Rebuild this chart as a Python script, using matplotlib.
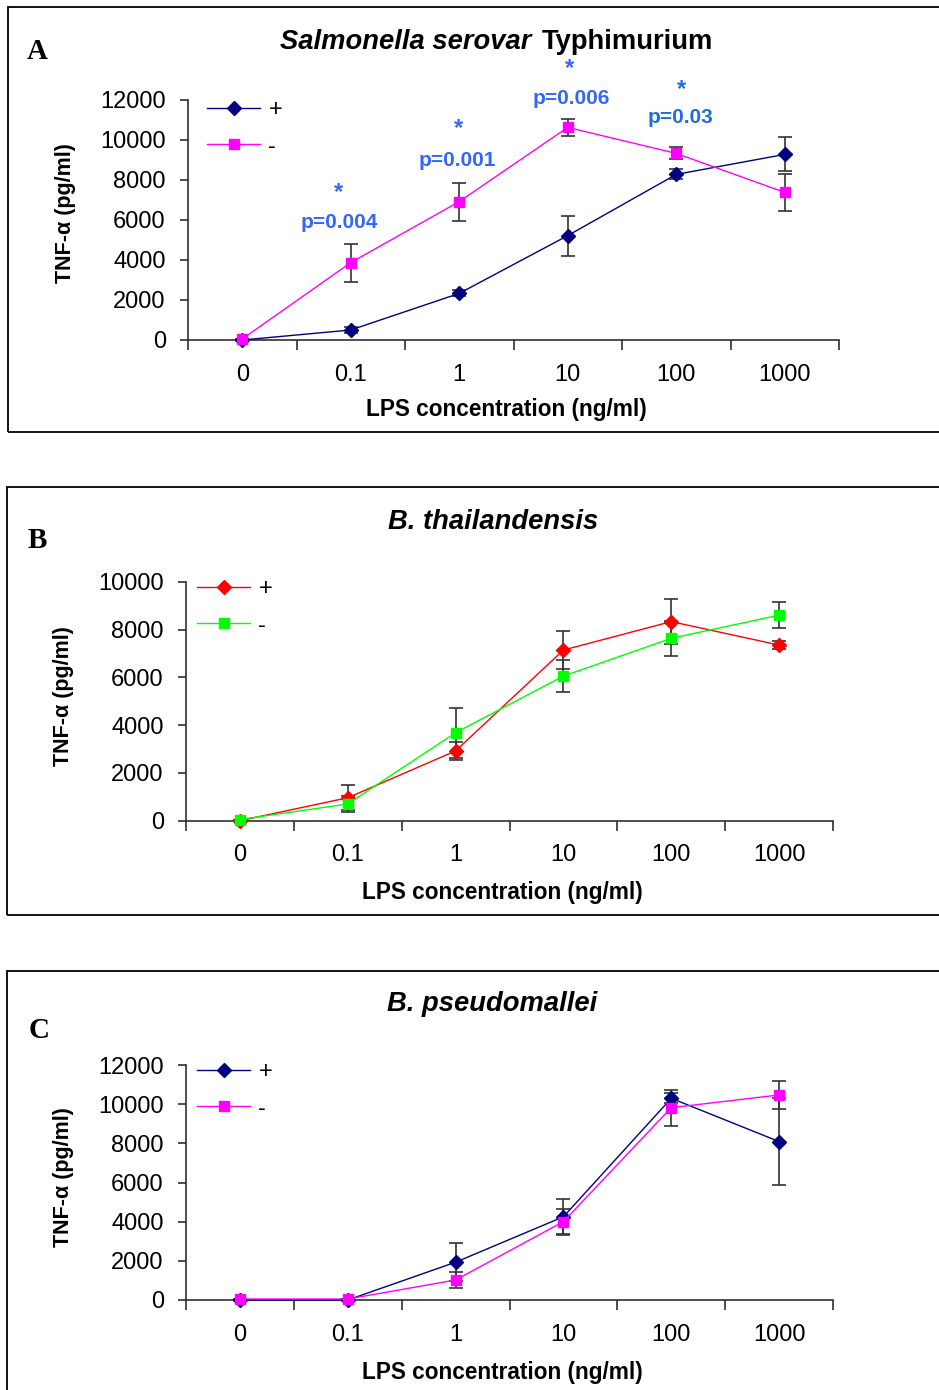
import numpy as np
import matplotlib
matplotlib.use("Agg")
import matplotlib.pyplot as plt
from matplotlib.patches import Rectangle

plt.rcParams["font.family"] = ["Liberation Sans", "DejaVu Sans"]

# --- data (TNF-alpha, pg/ml) ---
conc_labels = ["0", "0.1", "1", "10", "100", "1000"]

# A: Salmonella serovar Typhimurium
a_plus = [0, 500, 2330, 5220, 8280, 9280]
a_plus_err = [0, 150, 150, 1000, 250, 850]
a_minus = [50, 3870, 6920, 10630, 9330, 7380]
a_minus_err = [0, 950, 950, 420, 300, 920]
a_pvals = ["p=0.004", "p=0.001", "p=0.006", "p=0.03"]
# where the p-value labels and asterisks sit (category position, value)
a_pval_x = [0.89, 1.98, 3.03, 4.04]
a_pval_y = [5600, 8700, 11800, 10870]
a_star_x = [0.89, 1.99, 3.02, 4.05]
a_star_y = [7030, 10270, 13230, 12200]

# B: B. thailandensis
b_plus = [0, 960, 2920, 7140, 8330, 7350]
b_plus_err = [0, 530, 390, 780, 950, 150]
b_minus = [50, 700, 3680, 6050, 7630, 8600]
b_minus_err = [0, 320, 1050, 670, 740, 550]

# C: B. pseudomallei
c_plus = [0, 0, 1930, 4250, 10300, 8090]
c_plus_err = [0, 0, 970, 930, 260, 2210]
c_minus = [50, 50, 1020, 4000, 9820, 10470]
c_minus_err = [0, 0, 420, 630, 920, 715]

W, H = 939, 1390
fig = plt.figure(figsize=(W / 100, H / 100), dpi=100)


def fx(x):
    return x / W


def fy(y):
    return 1 - y / H


def add_panel(box, ax_px, letter, letter_xy, ylab_xy, xlab_xy, ymax,
              plus, plus_err, minus, minus_err, c_plus, c_minus, leg_xy):
    x0, y0, x1, y1 = box
    fig.patches.append(Rectangle((fx(x0), fy(y1)), fx(x1 - x0), (y1 - y0) / H,
                                 transform=fig.transFigure, fill=False,
                                 ec="black", lw=1.3))
    l, r, t, b = ax_px
    ax = fig.add_axes([fx(l), fy(b), fx(r - l), (b - t) / H])
    x = np.arange(len(conc_labels))
    for vals, errs in [(plus, plus_err), (minus, minus_err)]:
        ax.errorbar(x, vals, yerr=errs, fmt="none", ecolor="#333333",
                    elinewidth=1.2, capsize=5, capthick=1.2, clip_on=False,
                    zorder=2)
    ax.plot(x, plus, color=c_plus, lw=1, marker="D", ms=7.5, mec=c_plus,
            label="+", clip_on=False, zorder=3)
    ax.plot(x, minus, color=c_minus, lw=1, marker="s", ms=7, mec=c_minus,
            label="-", clip_on=False, zorder=3)
    ax.set_xlim(-0.5, len(conc_labels) - 0.5)
    ax.set_ylim(0, ymax)
    ax.set_yticks(range(0, ymax + 1, 2000))
    ax.set_xticks(np.arange(-0.5, len(conc_labels), 1))
    ax.set_xticklabels([])
    ax.set_xticks(x, minor=True)
    ax.set_xticklabels(conc_labels, minor=True)
    ax.tick_params(axis="x", which="major", direction="out", length=7,
                   width=1.2, color="#303030")
    ax.tick_params(axis="x", which="minor", length=0, pad=17, labelsize=17)
    ax.tick_params(axis="y", direction="out", length=6, width=1.2,
                   color="#303030", pad=10, labelsize=17)
    for s in ["top", "right"]:
        ax.spines[s].set_visible(False)
    for s in ["left", "bottom"]:
        ax.spines[s].set_color("#303030")
        ax.spines[s].set_linewidth(1.2)
    ax.patch.set_alpha(0)

    fig.text(fx(letter_xy[0]), fy(letter_xy[1]), letter, family="Liberation Serif",
             fontweight="bold", fontsize=21, ha="center", va="center")
    fig.text(fx(ylab_xy[0]), fy(ylab_xy[1]), "TNF-α (pg/ml)", rotation=90,
             fontweight="bold", fontsize=15.5, ha="center", va="center")
    fig.text(fx(xlab_xy[0]), fy(xlab_xy[1]), "LPS concentration (ng/ml)",
             fontweight="bold", fontsize=16.3, ha="center", va="center")
    ax.legend(loc="upper left", bbox_to_anchor=(fx(leg_xy[0]), fy(leg_xy[1])),
              bbox_transform=fig.transFigure, frameon=False, fontsize=17,
              handlelength=2.25, handletextpad=0.35, labelspacing=0.62,
              borderpad=0, borderaxespad=0)
    return ax


# ---- Panel A ----
axA = add_panel((8, 7, 960, 432), (188, 839, 100, 340), "A", (37.5, 51.5),
                (65, 213), (506, 410), 12000, a_plus, a_plus_err, a_minus,
                a_minus_err, "#000080", "#FF00FF", (207, 99))
fig.text(fx(531), fy(49), "Salmonella serovar", fontsize=19.7, fontweight="bold",
         style="italic", ha="right", va="baseline")
fig.text(fx(542), fy(49), "Typhimurium", fontsize=19.7, fontweight="bold",
         ha="left", va="baseline")

p_colors = ["#3366FF", "#3366FF", "#3366FF", "#1F6FD6"]
for i, lab in enumerate(a_pvals):
    axA.text(a_pval_x[i], a_pval_y[i], lab, ha="center", va="baseline",
             fontsize=15, fontweight="bold", color=p_colors[i], clip_on=False)
    axA.text(a_star_x[i], a_star_y[i], "*", ha="center", va="baseline",
             fontsize=17, fontweight="bold", color=p_colors[i], clip_on=False)

# ---- Panel B ----
add_panel((7, 487, 960, 915), (186, 833, 581.7, 820.7), "B", (37.5, 541),
          (63, 696), (502, 893), 10000, b_plus, b_plus_err, b_minus,
          b_minus_err, "#FF0000", "#00FF00", (197, 578))
fig.text(fx(493), fy(529), "B. thailandensis", fontsize=19.7, fontweight="bold",
         style="italic", ha="center", va="baseline")

# ---- Panel C ----
add_panel((7, 971, 960, 1420), (186, 833, 1065, 1300), "C", (39, 1031),
          (63, 1177), (502, 1372), 12000, c_plus, c_plus_err, c_minus,
          c_minus_err, "#000080", "#FF00FF", (197, 1061))
fig.text(fx(492.5), fy(1011), "B. pseudomallei", fontsize=19.7, fontweight="bold",
         style="italic", ha="center", va="baseline")

fig.savefig("out.png", dpi=100)
